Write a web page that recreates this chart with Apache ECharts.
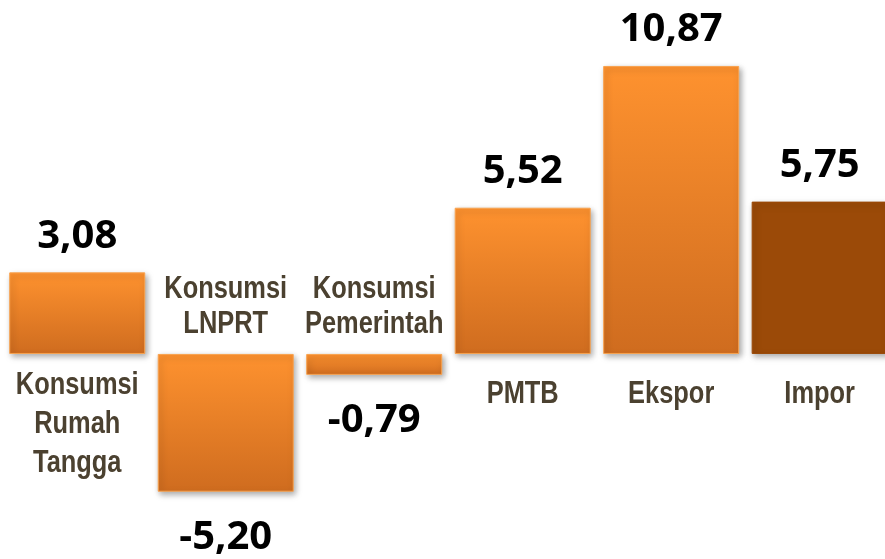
<!DOCTYPE html>
<html lang="id">
<head>
    <meta charset="UTF-8">
    <title>Pertumbuhan Komponen PDB</title>
    <style>
        html, body { margin: 0; padding: 0; background: #fff; }
        #main { width: 885px; height: 559px; }
    </style>
    <script src="https://cdn.jsdelivr.net/npm/echarts@6/dist/echarts.min.js"></script>
</head>
<body>
<div id="main"></div>
<script>
    // data
    var categories = ['Konsumsi\nRumah\nTangga', 'Konsumsi\nLNPRT', 'Konsumsi\nPemerintah', 'PMTB', 'Ekspor', 'Impor'];
    var values = [3.08, -5.20, -0.79, 5.52, 10.87, 5.75];
    var darkBar = [false, false, false, false, false, true];   // Impor drawn in dark brown

    var orangeFill = new echarts.graphic.LinearGradient(0, 0, 0, 1, [
        { offset: 0, color: '#fe922f' },
        { offset: 1, color: '#cf6c1f' }
    ]);
    var brownFill = '#9b4a08';

    var fmt = function (v) { return v.toFixed(2).replace('.', ','); };

    // x is a value axis (category index) so the last bar can run off the right edge like the original
    var barData = values.map(function (v, i) {
        return {
            value: [i, v],
            itemStyle: {
                color: darkBar[i] ? brownFill : orangeFill,
                borderColor: darkBar[i] ? '#9b4a08' : '#f9a34f'
            },
            label: {
                position: v >= 0 ? 'top' : 'bottom',
                distance: v >= 0 ? 16 : 26
            }
        };
    });

    var nameData = values.map(function (v, i) { return [i, v]; });

    // category names on the zero line, on the side away from the bar (narrow bold look via scaleX)
    function renderName(params, api) {
        var i = api.value(0);
        var v = api.value(1);
        var pt = api.coord([i, 0]);
        var text = categories[i];
        var multi = text.indexOf('\n') >= 0;
        var below = v >= 0;
        return {
            type: 'text',
            x: pt[0],
            y: below ? pt[1] + (multi ? 12 : 21) : pt[1] - 12,
            scaleX: 0.82,
            silent: true,
            style: {
                text: text,
                font: 'bold 31px "Liberation Sans", Arial, sans-serif',
                lineHeight: below ? 39 : 35,
                fill: '#4b4130',
                align: 'center',
                verticalAlign: below ? 'top' : 'bottom'
            }
        };
    }

    var chart = echarts.init(document.getElementById('main'));
    chart.setOption({
        animation: false,
        grid: { left: 3, top: 0, right: 0, bottom: 0 },
        xAxis: {
            type: 'value',
            min: -0.5,
            max: 5.44,
            show: false
        },
        yAxis: {
            type: 'value',
            min: -7.74,
            max: 13.36,
            show: false
        },
        series: [{
            type: 'bar',
            data: barData,
            barWidth: 136,
            itemStyle: {
                borderWidth: 1,
                shadowBlur: 6,
                shadowOffsetX: 2,
                shadowOffsetY: 3,
                shadowColor: 'rgba(0,0,0,0.35)'
            },
            label: {
                show: true,
                formatter: function (p) { return fmt(p.value[1]); },
                fontFamily: '"Open Sans"',
                fontWeight: 'bold',
                fontSize: 40,
                color: '#000'
            }
        }, {
            type: 'custom',
            data: nameData,
            renderItem: renderName,
            silent: true
        }]
    });
</script>
</body>
</html>
